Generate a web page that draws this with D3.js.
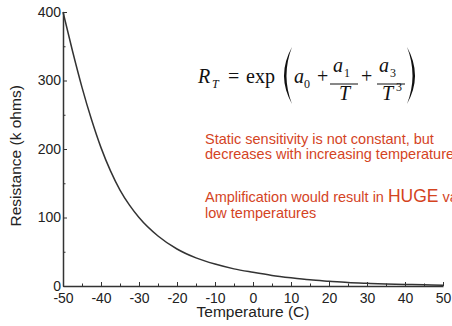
<!DOCTYPE html>
<html>
<head>
<meta charset="utf-8">
<script src="https://cdn.jsdelivr.net/npm/d3@7"></script>
<style>
  body { margin: 0; background: #fff; }
  svg { display: block; overflow: hidden; }
  .axis text { font-family: 'Liberation Sans', Arial, sans-serif; font-size: 14px; fill: #222; }
  .axis path, .axis line { stroke: #333; }
</style>
</head>
<body>
<div id="chart"></div>
<script>
// values
const temps = [-50, -47.5, -45, -42.5, -40, -37.5, -35, -32.5, -30, -25, -20, -15, -10, -5, 0, 5, 10, 15, 20, 25, 30, 35, 40, 45, 50]
const resistance = [400, 343, 290, 243, 202, 168, 140, 118, 100, 73, 54, 41, 32, 25, 20, 15.5, 12, 9, 7, 5.2, 4, 3, 2.3, 1.7, 1.2]
const xTicks = [-50, -40, -30, -20, -10, 0, 10, 20, 30, 40, 50]
const xMinor = [-45, -35, -25, -15, -5, 5, 15, 25, 35, 45]
const yTicks = [0, 100, 200, 300, 400]
const yMinor = [50, 150, 250, 350]
const notes = [
  ['Static sensitivity is not constant, but'],
  ['decreases with increasing temperature'],
  ['Amplification would result in ', 'HUGE', ' values at'],
  ['low temperatures']
]

const width = 452
const height = 326
const margin = { top: 12, left: 63, right: 9, bottom: 40 }

const svg = d3
  .select('#chart')
  .append('svg')
  .attr('width', width)
  .attr('height', height)

const xPositionScale = d3
  .scaleLinear()
  .domain([-50, 50])
  .range([margin.left, width - margin.right])
const yPositionScale = d3
  .scaleLinear()
  .domain([0, 400])
  .range([height - margin.bottom, margin.top])

// minor ticks first so the major axis draws over them
svg
  .append('g')
  .attr('class', 'axis')
  .attr('transform', 'translate(0,' + (height - margin.bottom) + ')')
  .call(d3.axisBottom(xPositionScale).tickValues(xMinor).tickSize(-2.5).tickFormat(''))
  .call(g => g.select('.domain').remove())
svg
  .append('g')
  .attr('class', 'axis')
  .attr('transform', 'translate(' + margin.left + ',0)')
  .call(d3.axisLeft(yPositionScale).tickValues(yMinor).tickSize(-2.5).tickFormat(''))
  .call(g => g.select('.domain').remove())

const xAxis = d3
  .axisBottom(xPositionScale)
  .tickValues(xTicks)
  .tickFormat(d => String(d))
  .tickSize(-4)
  .tickSizeOuter(0)
  .tickPadding(7)
svg
  .append('g')
  .attr('class', 'axis x-axis')
  .attr('transform', 'translate(0,' + (height - margin.bottom) + ')')
  .call(xAxis)
  .selectAll('.domain')
  .attr('stroke-width', 1.5)

const yAxis = d3
  .axisLeft(yPositionScale)
  .tickValues(yTicks)
  .tickFormat(d => String(d))
  .tickSize(-4)
  .tickSizeOuter(0)
  .tickPadding(2)
svg
  .append('g')
  .attr('class', 'axis y-axis')
  .attr('transform', 'translate(' + margin.left + ',0)')
  .call(yAxis)
  .selectAll('.domain')
  .attr('stroke-width', 1.5)

const line = d3
  .line()
  .x((d, i) => xPositionScale(temps[i]))
  .y(d => yPositionScale(d))
  .curve(d3.curveMonotoneX)

svg
  .append('path')
  .datum(resistance)
  .attr('d', line)
  .attr('fill', 'none')
  .attr('stroke', '#333')
  .attr('stroke-width', 1.5)

// axis titles
svg
  .append('text')
  .text('Temperature (C)')
  .attr('x', xPositionScale(0))
  .attr('y', 317)
  .attr('text-anchor', 'middle')
  .style('font-family', "'Liberation Sans', Arial, sans-serif")
  .style('font-size', '15.5px')
  .style('fill', '#222')

svg
  .append('text')
  .text('Resistance (k ohms)')
  .attr('transform', 'translate(21,' + yPositionScale(190) + ') rotate(-90)')
  .attr('text-anchor', 'middle')
  .style('font-family', "'Liberation Sans', Arial, sans-serif")
  .style('font-size', '15.5px')
  .style('fill', '#222')

// equation
const eq = svg
  .append('g')
  .style('font-family', "'Liberation Serif', 'Times New Roman', serif")
  .style('fill', '#111')

function eqText(str, x, y, size, italic) {
  eq.append('text')
    .text(str)
    .attr('x', x)
    .attr('y', y)
    .style('font-size', size + 'px')
    .style('font-style', italic ? 'italic' : 'normal')
}

eqText('R', 198, 83, 20, true)
eqText('T', 212, 88, 12, true)
eqText('=', 228, 83, 20, false)
eqText('exp', 246, 83, 20, false)
eqText('a', 294, 83, 20, true)
eqText('0', 304, 88, 12, false)
eqText('+', 317, 83, 20, false)
eqText('a', 333, 72, 20, true)
eqText('1', 344, 77, 12, false)
eqText('T', 339, 100, 20, true)
eqText('+', 361, 83, 20, false)
eqText('a', 379, 72, 20, true)
eqText('3', 390, 77, 12, false)
eqText('T', 382, 100, 20, true)
eqText('3', 396, 91, 12, false)

// big brackets
eq.append('path')
  .attr('d', 'M292,47 Q276,75.5 292,104 Q281,75.5 292,47 Z')
  .attr('fill', '#111')
eq.append('path')
  .attr('d', 'M407,47 Q423,75.5 407,104 Q418,75.5 407,47 Z')
  .attr('fill', '#111')

eq.selectAll('line')
  .data([[330, 358], [377, 405]])
  .enter()
  .append('line')
  .attr('x1', d => d[0])
  .attr('x2', d => d[1])
  .attr('y1', 84)
  .attr('y2', 84)
  .attr('stroke', '#111')
  .attr('stroke-width', 1)

// red notes
const noteY = [144, 159, 202, 218]
const noteText = svg
  .append('g')
  .style('font-family', "'Liberation Sans', Arial, sans-serif")
  .style('font-size', '14.5px')
  .style('fill', '#d4441f')

notes.forEach((parts, i) => {
  const t = noteText.append('text').attr('x', 205).attr('y', noteY[i])
  parts.forEach(p => {
    t.append('tspan')
      .text(p)
      .style('font-size', p === 'HUGE' ? '17.5px' : null)
  })
})
</script>
</body>
</html>
